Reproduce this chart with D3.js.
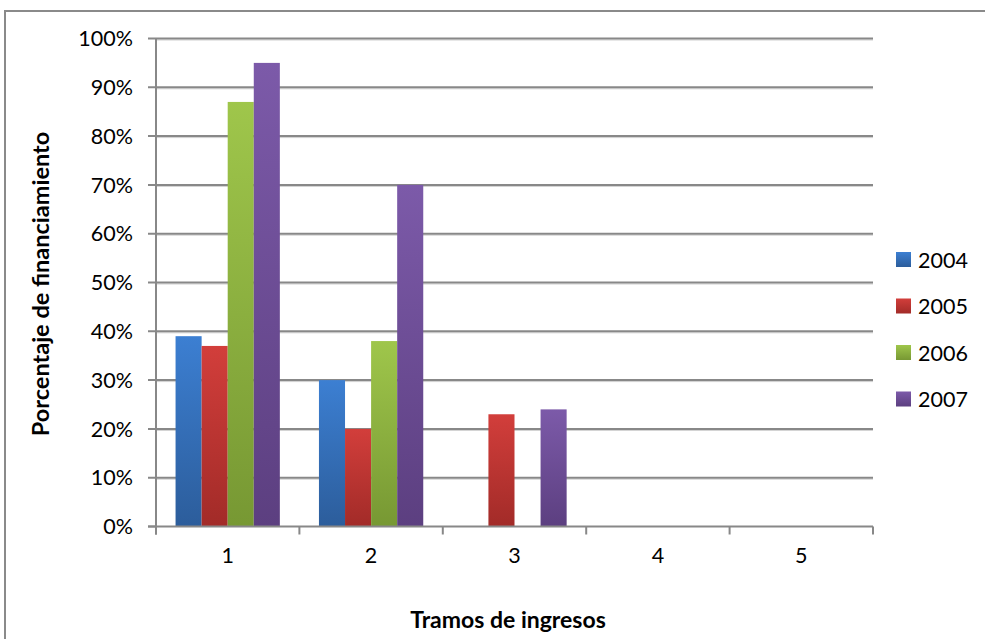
<!DOCTYPE html>
<html>
<head>
<meta charset="utf-8">
<script src="https://cdn.jsdelivr.net/npm/d3@7"></script>
<style>
  html, body { margin: 0; padding: 0; background: #fff; }
  svg { display: block; }
  text { font-family: Lato, "Open Sans", sans-serif; fill: #000; }
</style>
</head>
<body>
<svg id="chart" width="985" height="639"></svg>
<script>
// Income brackets and the financing share per year (percent)
const categories = ["1", "2", "3", "4", "5"];
const years = ["2004", "2005", "2006", "2007"];
const values2004 = [39, 30, 0, 0, 0];
const values2005 = [37, 20, 23, 0, 0];
const values2006 = [87, 38, 0, 0, 0];
const values2007 = [95, 70, 24, 0, 0];
const yTicks = [0, 10, 20, 30, 40, 50, 60, 70, 80, 90, 100];

const seriesValues = [values2004, values2005, values2006, values2007];
const colors = [
  { top: "#3c7fd2", bottom: "#2c5d9b" },
  { top: "#d23e3b", bottom: "#a22b28" },
  { top: "#9fc64b", bottom: "#779833" },
  { top: "#7c5aa9", bottom: "#5c3f80" }
];

const svg = d3.select("#chart");
const margin = { left: 156, right: 112, top: 38.5, bottom: 112.5 };
const W = 985, H = 639;
const plotW = W - margin.left - margin.right;
const plotH = H - margin.top - margin.bottom;

// Outer chart frame
svg.append("path")
  .attr("d", "M5,645 L5,11 L990,11")
  .attr("fill", "none").attr("stroke", "#8a8a8a").attr("stroke-width", 2);

const defs = svg.append("defs");
colors.forEach((c, i) => {
  const g = defs.append("linearGradient")
    .attr("id", "grad" + i).attr("x1", 0).attr("y1", 0).attr("x2", 0).attr("y2", 1);
  g.append("stop").attr("offset", "0%").attr("stop-color", c.top);
  g.append("stop").attr("offset", "100%").attr("stop-color", c.bottom);
});

const g = svg.append("g").attr("transform", `translate(${margin.left},${margin.top})`);

const x0 = d3.scaleBand().domain(categories).range([0, plotW]).paddingInner(0).paddingOuter(0);
// Excel-like gap: 4 bars + 1.5 bar widths of gap per category
const x1 = d3.scaleBand().domain(years)
  .range([x0.bandwidth() * 0.75 / 5.5, x0.bandwidth() * (1 - 0.75 / 5.5)]).padding(0);
const y = d3.scaleLinear().domain([0, 100]).range([plotH, 0]);

// Gridlines with a soft shadow
yTicks.filter(t => t > 0).forEach(t => {
  g.append("line").attr("x1", 0).attr("x2", plotW)
    .attr("y1", y(t) + 1.5).attr("y2", y(t) + 1.5)
    .attr("stroke", "#cfcfcf").attr("stroke-width", 1);
  g.append("line").attr("x1", -8).attr("x2", plotW)
    .attr("y1", y(t)).attr("y2", y(t))
    .attr("stroke", "#888").attr("stroke-width", 2);
});

// Bars
years.forEach((yr, i) => {
  g.append("g").selectAll("rect")
    .data(categories.map((c, j) => ({ c, v: seriesValues[i][j] })))
    .join("rect")
    .attr("x", d => x0(d.c) + x1(yr))
    .attr("width", x1.bandwidth())
    .attr("y", d => y(d.v))
    .attr("height", d => plotH - y(d.v))
    .attr("fill", `url(#grad${i})`);
});

// Y axis
g.append("line").attr("x1", 0).attr("x2", 0).attr("y1", 0).attr("y2", plotH + 8)
  .attr("stroke", "#888").attr("stroke-width", 2);
g.append("line").attr("x1", -8).attr("x2", 0).attr("y1", plotH).attr("y2", plotH)
  .attr("stroke", "#888").attr("stroke-width", 2);
g.selectAll(".ylab").data(yTicks).join("text")
  .attr("x", -23).attr("y", d => y(d)).attr("dy", "0.36em")
  .attr("text-anchor", "end").attr("font-size", 21.5)
  .text(d => d + "%");

// X axis
g.append("line").attr("x1", -8).attr("x2", plotW).attr("y1", plotH).attr("y2", plotH)
  .attr("stroke", "#888").attr("stroke-width", 2);
const xEdges = categories.map(c => x0(c)).concat([plotW]);
g.selectAll(".xtick").data(xEdges).join("line")
  .attr("x1", d => d).attr("x2", d => d).attr("y1", plotH).attr("y2", plotH + 8)
  .attr("stroke", "#888").attr("stroke-width", 2);
g.selectAll(".xlab").data(categories).join("text")
  .attr("x", d => x0(d) + x0.bandwidth() / 2).attr("y", plotH + 29)
  .attr("dy", "0.36em").attr("text-anchor", "middle").attr("font-size", 21.5)
  .text(d => d);

// Axis titles
svg.append("text").attr("x", 508).attr("y", 620).attr("dy", "0.36em")
  .attr("text-anchor", "middle").attr("font-size", 23).attr("font-weight", "bold")
  .text("Tramos de ingresos");
svg.append("text")
  .attr("transform", "translate(41,284) rotate(-90)").attr("dy", "0.36em")
  .attr("text-anchor", "middle").attr("font-size", 23.5).attr("font-weight", "bold")
  .text("Porcentaje de financiamiento");

// Legend
const legend = svg.append("g").attr("transform", "translate(896,260)");
years.forEach((yr, i) => {
  const row = legend.append("g").attr("transform", `translate(0,${i * 46.5})`);
  row.append("rect").attr("x", 0).attr("y", -8).attr("width", 15).attr("height", 15)
    .attr("fill", `url(#grad${i})`);
  row.append("text").attr("x", 22).attr("y", 0).attr("dy", "0.36em")
    .attr("font-size", 21.5).text(yr);
});
</script>
</body>
</html>
